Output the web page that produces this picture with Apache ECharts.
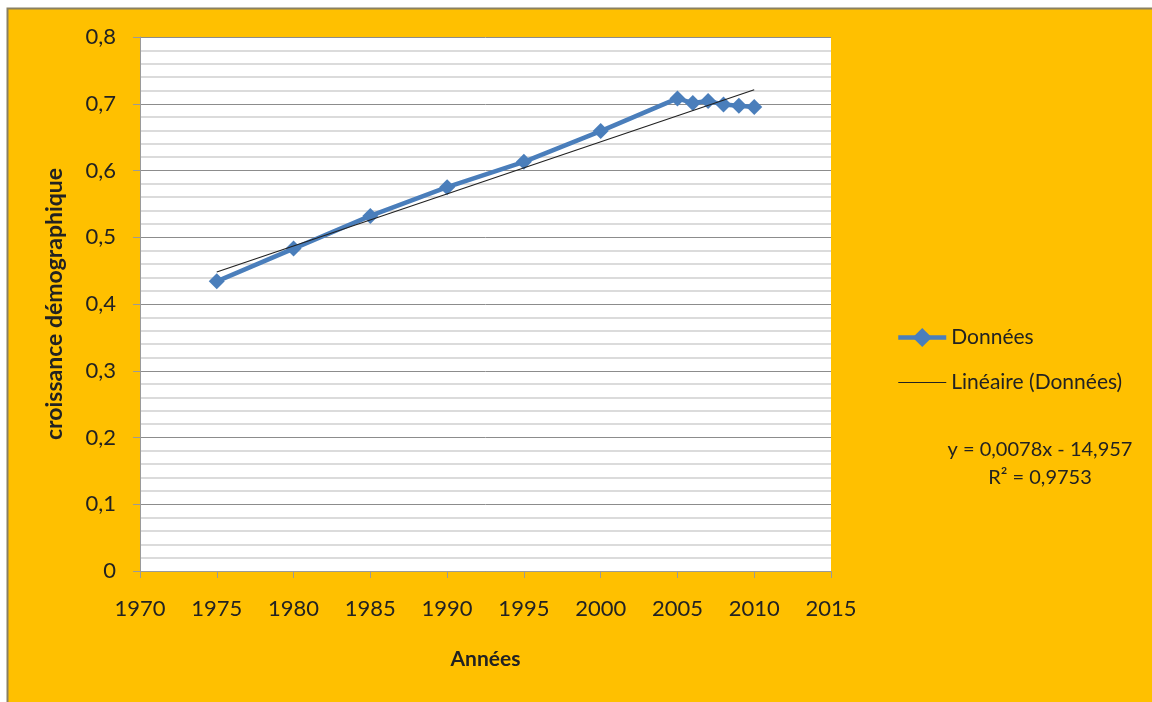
<!DOCTYPE html>
<html>
<head>
<meta charset="utf-8">
<script src="https://cdn.jsdelivr.net/npm/echarts@6/dist/echarts.min.js"></script>
<style>
html,body{margin:0;padding:0;background:#fff;}
#chart{width:1152px;height:702px;}
</style>
</head>
<body>
<div id="chart"></div>
<script>
// Data
var years = [1975, 1980, 1985, 1990, 1995, 2000, 2005, 2006, 2007, 2008, 2009, 2010];
var values = [0.434, 0.483, 0.532, 0.575, 0.613, 0.659, 0.708, 0.701, 0.704, 0.699, 0.697, 0.695];
var trendYears = [1975, 2010];
var trendValues = [0.448, 0.721];
var seriesNames = ['Données', 'Linéaire (Données)'];
var equationLines = ['y = 0,0078x - 14,957', 'R² = 0,9753'];
var xTitle = 'Années';
var yTitle = 'croissance démographique';

var FONT = 'Lato, "Open Sans", sans-serif';
var chart = echarts.init(document.getElementById('chart'));
function pairs(xs, ys){ return xs.map(function(x,i){ return [x, ys[i]]; }); }

chart.setOption({
  backgroundColor: '#ffffff',
  animation: false,
  textStyle: { fontFamily: FONT },
  graphic: [
    { type: 'rect', z: -10, shape: { x: 7.5, y: 8.5, width: 1150, height: 700 },
      style: { fill: '#FFC000', stroke: '#8a8060', lineWidth: 2 } },
    { type: 'text', x: 1040, y: 450,
      style: { text: equationLines[0], fontSize: 20, fontFamily: FONT, fill: '#222', align: 'center', verticalAlign: 'middle' } },
    { type: 'text', x: 1040, y: 478,
      style: { text: equationLines[1], fontSize: 20, fontFamily: FONT, fill: '#222', align: 'center', verticalAlign: 'middle' } }
  ],
  grid: { left: 140, right: 321, top: 37, bottom: 131, show: true, backgroundColor: '#ffffff', borderWidth: 0 },
  legend: {
    orient: 'vertical', left: 891, top: 322, itemWidth: 48, itemHeight: 24, itemGap: 24,
    textStyle: { fontSize: 21, color: '#222', fontFamily: FONT },
    data: [
      { name: seriesNames[0], lineStyle: { width: 4.5, color: '#4A7EBB' } },
      { name: seriesNames[1], lineStyle: { width: 1.2, color: '#222' }, itemStyle: { opacity: 0 } }
    ]
  },
  xAxis: {
    type: 'value', min: 1970, max: 2015, interval: 5,
    name: xTitle, nameLocation: 'middle', nameGap: 78,
    nameTextStyle: { fontSize: 21, fontWeight: 'bold', color: '#222', fontFamily: FONT },
    axisLine: { show: true, lineStyle: { color: '#9a9a9a' } },
    axisTick: { show: true, length: 7, lineStyle: { color: '#9a9a9a' } },
    axisLabel: { fontSize: 22, color: '#222', margin: 27, fontFamily: FONT, formatter: function(v){ return String(v); } },
    splitLine: { show: false }
  },
  yAxis: {
    type: 'value', min: 0, max: 0.8, interval: 0.1,
    name: yTitle, nameLocation: 'middle', nameGap: 74, nameRotate: 90,
    nameTextStyle: { fontSize: 23, fontWeight: 'bold', color: '#222', fontFamily: FONT },
    axisLine: { show: true, lineStyle: { color: '#9a9a9a' } },
    axisTick: { show: true, length: 7, lineStyle: { color: '#9a9a9a' } },
    axisLabel: { fontSize: 22, color: '#222', margin: 24, fontFamily: FONT,
      formatter: function(v){ return v === 0 ? '0' : v.toFixed(1).replace('.', ','); } },
    splitLine: { show: true, lineStyle: { color: '#8c8c8c', width: 1 } },
    minorTick: { show: true, splitNumber: 5, length: 0 },
    minorSplitLine: { show: true, lineStyle: { color: '#cfcfcf', width: 1.5 } }
  },
  series: [
    { name: seriesNames[0], type: 'line', data: pairs(years, values),
      symbol: 'diamond', symbolSize: 16, z: 3,
      lineStyle: { color: '#4A7EBB', width: 4.5 }, itemStyle: { color: '#4A7EBB' } },
    { name: seriesNames[1], type: 'line', data: pairs(trendYears, trendValues),
      symbol: 'none', showSymbol: false, z: 4,
      lineStyle: { color: '#222', width: 1.2 }, itemStyle: { color: '#222' } }
  ]
});
</script>
</body>
</html>
